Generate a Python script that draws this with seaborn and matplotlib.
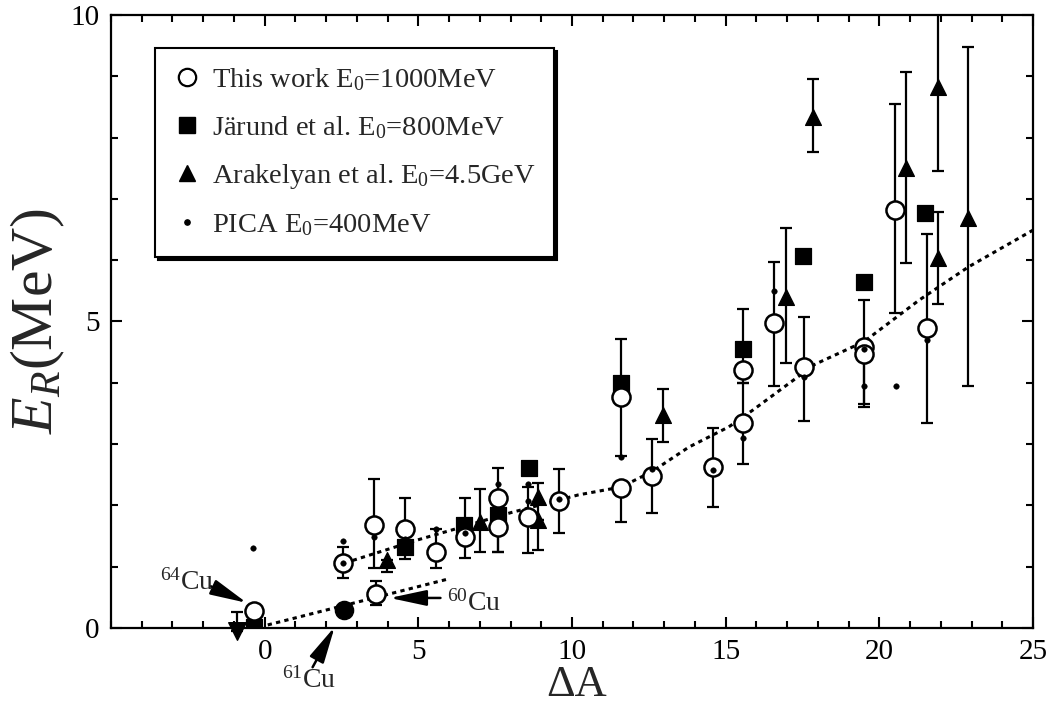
import numpy as np
import pandas as pd
import matplotlib
matplotlib.use("Agg")
import matplotlib.pyplot as plt
from matplotlib.lines import Line2D
from matplotlib.ticker import MultipleLocator
import seaborn as sns

# ---------------- data ----------------
# This work, E0 = 1000 MeV (open circles)
tw_x  = [-0.36, 2.55, 3.62, 3.55, 4.56, 5.57, 6.52, 7.6, 7.6, 8.57, 9.58, 11.6, 11.6, 12.6, 14.6, 15.57, 15.57, 16.58, 17.56, 19.5, 19.5, 20.5, 21.56]
tw_y  = [0.28, 1.06, 0.56, 1.68, 1.61, 1.24, 1.48, 2.12, 1.65, 1.81, 2.07, 2.28, 3.77, 2.48, 2.63, 3.34, 4.21, 4.97, 4.26, 4.58, 4.47, 6.82, 4.89]
tw_lo = [0.28, 0.82, 0.37, 0.98, 1.13, 0.98, 1.14, 1.24, 1.24, 1.22, 1.55, 1.73, 2.80, 1.88, 1.97, 2.67, 4.00, 3.95, 3.38, 3.65, 3.60, 5.14, 3.35]
tw_hi = [0.28, 1.32, 0.76, 2.43, 2.12, 1.62, 2.12, 2.61, 1.65, 2.30, 2.59, 2.28, 4.72, 3.08, 3.26, 4.00, 5.20, 5.97, 5.08, 5.35, 4.47, 8.55, 6.43]

# 61Cu (filled circle)
cu61_x = [2.57]
cu61_y = [0.29]

# Jarund et al., E0 = 800 MeV (filled squares)
sq_x = [-0.36, 4.56, 6.5, 7.6, 8.6, 11.6, 15.57, 17.5, 19.5, 21.5]
sq_y = [0.02, 1.32, 1.68, 1.84, 2.61, 4.00, 4.55, 6.07, 5.65, 6.77]

# Arakelyan et al., E0 = 4.5 GeV (filled triangles)
tri_x  = [3.97, 7.0, 8.9, 8.9, 12.97, 16.97, 17.85, 20.88, 21.9, 21.9, 22.87]
tri_y  = [1.11, 1.73, 2.14, 1.76, 3.47, 5.40, 8.34, 7.50, 8.82, 6.03, 6.68]
tri_lo = [0.91, 1.24, 1.27, 1.76, 3.03, 4.32, 7.76, 5.96, 7.46, 5.29, 3.95]
tri_hi = [1.11, 2.27, 2.37, 1.76, 3.90, 6.53, 8.95, 9.07, 10.5, 6.79, 9.48]

# Arakelyan upper limit (down triangle)
lim_x  = [-0.9]
lim_y  = [-0.05]
lim_hi = [0.26]

# PICA, E0 = 400 MeV (small dots)
pica_x = [-0.39, 2.55, 2.55, 3.55, 4.56, 5.57, 6.52, 7.6, 8.57, 8.57, 9.58, 11.6, 12.6, 14.6, 15.57, 16.58, 17.56, 19.5, 19.5, 20.55, 21.56]
pica_y = [1.30, 1.42, 1.06, 1.48, 1.45, 1.62, 1.55, 2.35, 2.35, 2.07, 2.10, 2.79, 2.60, 2.58, 3.10, 5.50, 4.10, 4.55, 3.95, 3.95, 4.70]

# dotted systematics curves
fit1_x = [0.1, 5.9]
fit1_y = [0.05, 0.79]
fit2_x = [2.6, 5.0, 6.1, 8.0, 10.2, 11.6, 12.6, 13.8, 15.1, 15.9, 17.9, 19.5, 21.3, 22.9, 25.0]
fit2_y = [1.06, 1.44, 1.60, 1.88, 2.17, 2.30, 2.55, 2.95, 3.28, 3.56, 4.30, 4.67, 5.35, 5.89, 6.49]

legend_labels = ["This work E$_0$=1000MeV", "Järund et al. E$_0$=800MeV",
                 "Arakelyan et al. E$_0$=4.5GeV", "PICA E$_0$=400MeV"]

# ---------------- style ----------------
sns.set_theme(style="ticks")
plt.rcParams["font.family"] = ["Liberation Serif", "DejaVu Serif"]
plt.rcParams["mathtext.fontset"] = "custom"
plt.rcParams["mathtext.rm"] = "Liberation Serif"
plt.rcParams["mathtext.it"] = "Liberation Serif:italic"
plt.rcParams["mathtext.bf"] = "Liberation Serif:bold"

fig = plt.figure(figsize=(10.63, 7.10), dpi=100)
ax = fig.add_axes([0.1044, 0.1155, 0.8674, 0.8635])

K = "black"
elw = 1.6
cap = 4

# dotted lines
sns.lineplot(x=fit1_x, y=fit1_y, ax=ax, color=K, lw=2.2, linestyle=(0, (1.4, 1.4)), zorder=2)
sns.lineplot(x=fit2_x, y=fit2_y, ax=ax, color=K, lw=2.2, linestyle=(0, (1.4, 1.4)), zorder=2)

# error bars
tw_x_a = np.array(tw_x); tw_y_a = np.array(tw_y)
ax.errorbar(tw_x_a, tw_y_a, yerr=[tw_y_a - np.array(tw_lo), np.array(tw_hi) - tw_y_a],
            fmt="none", ecolor=K, elinewidth=elw, capsize=cap, capthick=elw, zorder=3)
tri_x_a = np.array(tri_x); tri_y_a = np.array(tri_y)
ax.errorbar(tri_x_a, tri_y_a, yerr=[tri_y_a - np.array(tri_lo), np.array(tri_hi) - tri_y_a],
            fmt="none", ecolor=K, elinewidth=elw, capsize=cap, capthick=elw, zorder=3)
ax.errorbar(lim_x, lim_y, yerr=[[0], [lim_hi[0] - lim_y[0]]], fmt="none", ecolor=K,
            elinewidth=elw, capsize=cap, capthick=elw, zorder=3, clip_on=False)

# markers
sns.scatterplot(x=pica_x, y=pica_y, ax=ax, marker="o", s=16, color=K, edgecolor=K, zorder=6)
sns.scatterplot(x=sq_x, y=sq_y, ax=ax, marker="s", s=120, color=K, edgecolor=K, zorder=4)
sns.scatterplot(x=tri_x, y=tri_y, ax=ax, marker="^", s=130, color=K, edgecolor=K, zorder=5)
sns.scatterplot(x=tw_x, y=tw_y, ax=ax, marker="o", s=170, facecolor="white",
                edgecolor=K, linewidth=1.8, zorder=5)
sns.scatterplot(x=cu61_x, y=cu61_y, ax=ax, marker="o", s=170, color=K, edgecolor=K, zorder=5)
lim = ax.scatter(lim_x, lim_y, marker="v", s=160, color=K, zorder=5)
lim.set_clip_on(False)

# axes
ax.set_xlim(-5, 25)
ax.set_ylim(0, 10)
ax.xaxis.set_major_locator(MultipleLocator(5))
ax.xaxis.set_minor_locator(MultipleLocator(1))
ax.yaxis.set_major_locator(MultipleLocator(5))
ax.yaxis.set_minor_locator(MultipleLocator(1))
ax.set_xticks([0, 5, 10, 15, 20, 25])
ax.tick_params(which="both", direction="in", top=True, right=True, width=1.5, colors=K,
               labelsize=21, pad=8)
ax.tick_params(which="major", length=8)
ax.tick_params(which="minor", length=5)
for s in ax.spines.values():
    s.set_linewidth(1.6)
    s.set_color(K)
    s.set_visible(True)
ax.set_facecolor("white")

ax.set_xlabel("ΔA", fontsize=32)
ax.xaxis.set_label_coords(0.505, -0.06)
ax.set_ylabel("$E_R$(MeV)", fontsize=43)
ax.yaxis.set_label_coords(-0.048, 0.5)

# annotations
arrow = dict(arrowstyle="-|>,head_length=1.4,head_width=0.3", color=K, lw=1.8,
             mutation_scale=16, shrinkA=0, shrinkB=0)
ax.annotate("", xy=(-0.58, 0.41), xytext=(-1.75, 0.68), arrowprops=arrow)
ax.text(-3.4, 0.62, "$^{64}$Cu", fontsize=20, ha="left", va="baseline")
ax.annotate("", xy=(2.28, 0.02), xytext=(1.56, -0.64), arrowprops=arrow, annotation_clip=False)
ax.text(0.55, -0.97, "$^{61}$Cu", fontsize=20, ha="left", va="baseline", clip_on=False)
ax.annotate("", xy=(4.07, 0.49), xytext=(5.72, 0.49), arrowprops=arrow)
ax.text(5.93, 0.29, "$^{60}$Cu", fontsize=20, ha="left", va="baseline")

# legend
handles = [
    Line2D([], [], marker="o", ls="none", mfc="white", mec=K, mew=1.6, ms=12.5),
    Line2D([], [], marker="s", ls="none", mfc=K, mec=K, ms=11),
    Line2D([], [], marker="^", ls="none", mfc=K, mec=K, ms=12),
    Line2D([], [], marker="o", ls="none", mfc=K, mec=K, ms=3.8),
]
leg = ax.legend(handles, legend_labels, loc="upper left", bbox_to_anchor=(0.048, 0.946),
                borderaxespad=0, fontsize=20.5, frameon=True, fancybox=False,
                shadow={"color": "black", "alpha": 1.0}, handletextpad=0.45,
                labelspacing=0.74, borderpad=0.65, handlelength=0.9)
leg.get_frame().set_edgecolor(K)
leg.get_frame().set_linewidth(1.5)
leg.get_frame().set_facecolor("white")
leg.get_frame().set_alpha(1.0)

fig.savefig("out.png", dpi=100)
